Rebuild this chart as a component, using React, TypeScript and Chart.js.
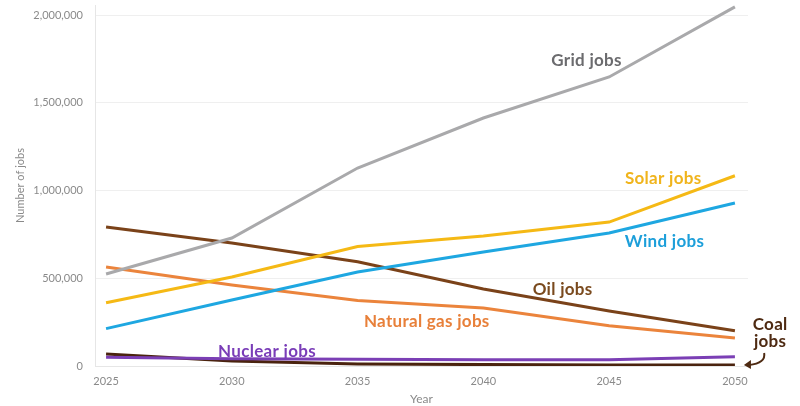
import React, { useEffect, useRef } from "react";
import { Chart, registerables } from "chart.js";

Chart.register(...registerables);

const years = [2025, 2030, 2035, 2040, 2045, 2050];
const xTicks = [2025, 2030, 2035, 2040, 2045, 2050];
const yTicks = [0, 500000, 1000000, 1500000, 2000000];

const gridJobs = [524000, 729000, 1128000, 1413000, 1647000, 2046000];
const solarJobs = [360000, 507000, 681000, 741000, 820000, 1084000];
const windJobs = [213000, 376000, 536000, 650000, 758000, 929000];
const oilJobs = [792000, 701000, 594000, 439000, 313000, 201000];
const gasJobs = [564000, 461000, 373000, 330000, 230000, 160000];
const nuclearJobs = [50000, 42000, 38000, 36000, 35000, 52000];
const coalJobs = [68000, 28000, 12000, 8000, 6000, 5000];

const seriesNames = ["Grid jobs", "Solar jobs", "Wind jobs", "Oil jobs", "Natural gas jobs", "Nuclear jobs", "Coal jobs"];
const seriesValues = [gridJobs, solarJobs, windJobs, oilJobs, gasJobs, nuclearJobs, coalJobs];
const seriesColors = ["#a9a9ab", "#f5b915", "#1ea7e1", "#7a4219", "#eb843c", "#7b3fb5", "#4a230e"];
const labelColors = ["#6b6b6e", "#f0b41c", "#1d9fda", "#7a4a1e", "#e8803a", "#7a3db8", "#4e2a12"];

// annotation label anchor positions in data coordinates [year, value]
const labelTexts = ["Grid jobs", "Solar jobs", "Wind jobs", "Oil jobs", "Natural gas jobs", "Nuclear jobs"];
const labelYears = [2044.1, 2047.15, 2047.2, 2043.15, 2037.75, 2031.4];
const labelValues = [1740000, 1071000, 712000, 433000, 256000, 85000];
const coalLabelLines = ["Coal", "jobs"];
const coalLabelYear = 2051.4;
const coalLabelValues = [234000, 137000];

const FONT = "Lato, 'Open Sans', sans-serif";

const labelPlugin = {
  id: "seriesLabels",
  afterDatasetsDraw(chart: any) {
    const { ctx, scales } = chart;
    const xs = scales.x;
    const ys = scales.y;
    ctx.save();
    ctx.font = `bold 17px ${FONT}`;
    try {
      (ctx as any).letterSpacing = "0.3px";
    } catch (e) {}
    ctx.textAlign = "center";
    ctx.textBaseline = "middle";
    labelTexts.forEach((t, i) => {
      ctx.fillStyle = labelColors[i];
      ctx.fillText(t, xs.getPixelForValue(labelYears[i]), ys.getPixelForValue(labelValues[i]));
    });
    ctx.fillStyle = labelColors[6];
    coalLabelLines.forEach((t, i) => {
      ctx.fillText(t, xs.getPixelForValue(coalLabelYear), ys.getPixelForValue(coalLabelValues[i]));
    });
    // curved arrow from the coal label to the coal line end
    const endX = xs.getPixelForValue(2050) + 12;
    const endY = ys.getPixelForValue(coalJobs[coalJobs.length - 1]);
    const startX = xs.getPixelForValue(coalLabelYear) - 6;
    const startY = ys.getPixelForValue(coalLabelValues[1]) + 11;
    ctx.strokeStyle = labelColors[6];
    ctx.lineWidth = 2;
    ctx.beginPath();
    ctx.moveTo(startX, startY);
    ctx.quadraticCurveTo(startX + 2, endY - 2, endX + 2, endY);
    ctx.stroke();
    ctx.beginPath();
    ctx.moveTo(endX - 3, endY);
    ctx.lineTo(endX + 4, endY - 5);
    ctx.lineTo(endX + 4, endY + 4);
    ctx.closePath();
    ctx.fillStyle = labelColors[6];
    ctx.fill();
    ctx.restore();
  },
};

export default function App() {
  const ref = useRef<HTMLCanvasElement | null>(null);
  useEffect(() => {
    if (!ref.current) return;
    const chart = new Chart(ref.current, {
      type: "line",
      data: {
        datasets: seriesNames.map((name, i) => ({
          label: name,
          data: years.map((y, j) => ({ x: y, y: seriesValues[i][j] })),
          borderColor: seriesColors[i],
          backgroundColor: seriesColors[i],
          borderWidth: 3,
          pointRadius: 0,
          tension: 0,
          fill: false,
        })),
      },
      options: {
        animation: false,
        responsive: false,
        maintainAspectRatio: false,
        layout: { padding: { top: 5, right: 52, left: 0, bottom: 0 } },
        plugins: { legend: { display: false }, tooltip: { enabled: false } },
        scales: {
          x: {
            type: "linear",
            min: 2024.56,
            max: 2050.52,
            afterBuildTicks: (s: any) => {
              s.ticks = xTicks.map((v) => ({ value: v }));
            },
            afterFit: (s: any) => {
              s.height = 40;
            },
            grid: { display: false, drawTicks: false },
            border: { display: true, color: "#e6e6e6", width: 1 },
            ticks: {
              color: "#8a8a8a",
              font: { family: FONT, size: 11 },
              padding: 9,
              callback: (v: any) => String(v),
            },
            title: {
              display: true,
              text: "Year",
              color: "#8a8a8a",
              font: { family: FONT, size: 12 },
              padding: { top: 0, bottom: 0 },
            },
          },
          y: {
            min: 0,
            max: 2057000,
            afterBuildTicks: (s: any) => {
              s.ticks = yTicks.map((v) => ({ value: v }));
            },
            afterFit: (s: any) => {
              s.width = 95;
              s.paddingTop = 0;
              s.paddingBottom = 0;
            },
            grid: { color: "#efefef", lineWidth: 1, drawTicks: false },
            border: { display: true, color: "#e6e6e6", width: 1 },
            ticks: {
              color: "#8a8a8a",
              font: { family: FONT, size: 11 },
              padding: 12,
              callback: (v: any) => Number(v).toLocaleString("en-US"),
            },
            title: {
              display: true,
              text: "Number of jobs",
              color: "#8a8a8a",
              font: { family: FONT, size: 11 },
              padding: { top: 14, bottom: 0 },
            },
          },
        },
      },
      plugins: [labelPlugin],
    });
    return () => chart.destroy();
  }, []);
  return (
    <div style={{ position: "fixed", left: 0, top: 0, width: 800, height: 406, background: "#fff" }}>
      <canvas ref={ref} width={800} height={406} style={{ width: 800, height: 406 }} />
    </div>
  );
}
